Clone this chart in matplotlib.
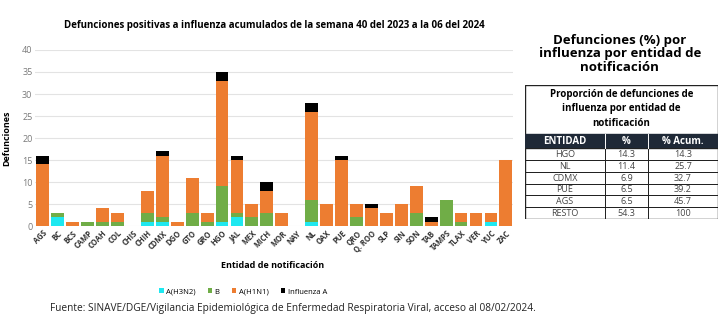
import matplotlib.pyplot as plt
from matplotlib.patches import Rectangle

plt.rcParams['font.family'] = ['Open Sans', 'DejaVu Sans']

entidades = ['AGS', 'BC', 'BCS', 'CAMP', 'COAH', 'COL', 'CHIS', 'CHIH', 'CDMX', 'DGO',
             'GTO', 'GRO', 'HGO', 'JAL', 'MEX', 'MICH', 'MOR', 'NAY', 'NL', 'OAX',
             'PUE', 'QRO', 'Q. ROO', 'SLP', 'SIN', 'SON', 'TAB', 'TAMPS', 'TLAX', 'VER',
             'YUC', 'ZAC']
h3n2 = [0, 2, 0, 0, 0, 0, 0, 1, 1, 0, 0, 0, 1, 2, 0, 0, 0, 0, 1, 0, 0, 0, 0, 0, 0, 0, 0, 0, 0, 0, 1, 0]
b = [0, 1, 0, 1, 1, 1, 0, 2, 1, 0, 3, 1, 8, 1, 2, 3, 0, 0, 5, 0, 0, 2, 0, 0, 0, 3, 0, 6, 1, 0, 0, 0]
h1n1 = [14, 0, 1, 0, 3, 2, 0, 5, 14, 1, 8, 2, 24, 12, 3, 5, 3, 0, 20, 5, 15, 3, 4, 3, 5, 6, 1, 0, 2, 3, 2, 15]
flu_a = [2, 0, 0, 0, 0, 0, 0, 0, 1, 0, 0, 0, 2, 1, 0, 2, 0, 0, 2, 0, 1, 0, 1, 0, 0, 0, 1, 0, 0, 0, 0, 0]

tabla_entidad = ['HGO', 'NL', 'CDMX', 'PUE', 'AGS', 'RESTO']
tabla_pct = ['14.3', '11.4', '6.9', '6.5', '6.5', '54.3']
tabla_acum = ['14.3', '25.7', '32.7', '39.2', '45.7', '100']

c_h3n2 = '#1ee8f0'
c_b = '#70ad47'
c_h1n1 = '#ed7d31'
c_a = '#000000'

fig = plt.figure(figsize=(7.2, 3.31), dpi=100)
ax = fig.add_axes([0.049, 0.317, 0.664, 0.532])

x = list(range(len(entidades)))
w = 0.86
base1 = h3n2
base2 = [i + j for i, j in zip(h3n2, b)]
base3 = [i + j for i, j in zip(base2, h1n1)]
ax.bar(x, h3n2, w, color=c_h3n2, label='A(H3N2)', zorder=3)
ax.bar(x, b, w, bottom=base1, color=c_b, label='B', zorder=3)
ax.bar(x, h1n1, w, bottom=base2, color=c_h1n1, label='A(H1N1)', zorder=3)
ax.bar(x, flu_a, w, bottom=base3, color=c_a, label='Influenza A', zorder=3)

ax.set_xlim(-0.5, len(entidades) - 0.5)
ax.set_ylim(0, 40)
ax.set_yticks(range(0, 41, 5))
ax.grid(axis='y', color='#e3e3e3', linewidth=0.8, zorder=0)
for s in ax.spines.values():
    s.set_visible(False)
ax.tick_params(axis='both', length=0, pad=2)
ax.tick_params(axis='y', labelsize=6.5, labelcolor='#7a7a7a')
ax.set_xticks(x)
ax.set_xticklabels(entidades, rotation=45, ha='right', rotation_mode='anchor',
                   fontsize=5.5, fontweight='bold', color='#333333')
ax.set_ylabel('Defunciones', fontsize=6.5, fontweight='bold', labelpad=8)
ax.set_title('Defunciones positivas a influenza acumulados de la semana 40 del 2023 a la 06 del 2024',
             fontsize=7, fontweight='bold', pad=16)

fig.text(0.378, 1 - 266 / 331, 'Entidad de notificación', fontsize=6.5, fontweight='bold',
         ha='center', va='center')

leg = fig.legend(loc='center', bbox_to_anchor=(243 / 720, 1 - 292 / 331), ncol=4, frameon=False,
                 fontsize=5.5, handlelength=0.6, handleheight=0.6, handletextpad=0.3,
                 columnspacing=1.6, borderpad=0)

fig.text(0.07, 1 - 309 / 331, 'Fuente: SINAVE/DGE/Vigilancia Epidemiológica de Enfermedad Respiratoria Viral, acceso al 08/02/2024.',
         fontsize=7.3, color='#222222', va='center')

fig.text(0.861, 1 - 54 / 331, 'Defunciones (%) por\ninfluenza por entidad de\nnotificación',
         fontsize=9.5, fontweight='bold', ha='center', va='center', linespacing=1.08)

# tabla de proporciones
tx = fig.add_axes([525 / 720, 1 - 219 / 331, 193 / 720, 134 / 331])
tx.set_xlim(0, 193)
tx.set_ylim(134, 0)
tx.axis('off')
tx.add_patch(Rectangle((0, 0), 193, 134, fill=False, lw=1.0, ec='#222222'))
tx.text(96.5, 24, 'Proporción de defunciones de\ninfluenza por entidad de\nnotificación',
        ha='center', va='center', fontsize=7, fontweight='bold', linespacing=1.4)
cols = [0, 80, 123, 193]
tx.add_patch(Rectangle((0, 49), 193, 14, color='#1f2937'))
for j, h in enumerate(['ENTIDAD', '%', '% Acum.']):
    tx.text((cols[j] + cols[j + 1]) / 2, 56, h, ha='center', va='center',
            fontsize=7, fontweight='bold', color='white')
row_h = (134 - 63) / len(tabla_entidad)
for i in range(len(tabla_entidad)):
    y0 = 63 + i * row_h
    vals = [tabla_entidad[i], tabla_pct[i], tabla_acum[i]]
    for j in range(3):
        tx.add_patch(Rectangle((cols[j], y0), cols[j + 1] - cols[j], row_h,
                               fill=False, lw=0.7, ec='#222222'))
        tx.text((cols[j] + cols[j + 1]) / 2, y0 + row_h / 2 + 0.5, vals[j],
                ha='center', va='center', fontsize=6.5, color='#444444')
for j in range(1, 3):
    tx.plot([cols[j], cols[j]], [49, 63], color='white', lw=0.7)

fig.savefig('out.png', dpi=100, facecolor='white')
